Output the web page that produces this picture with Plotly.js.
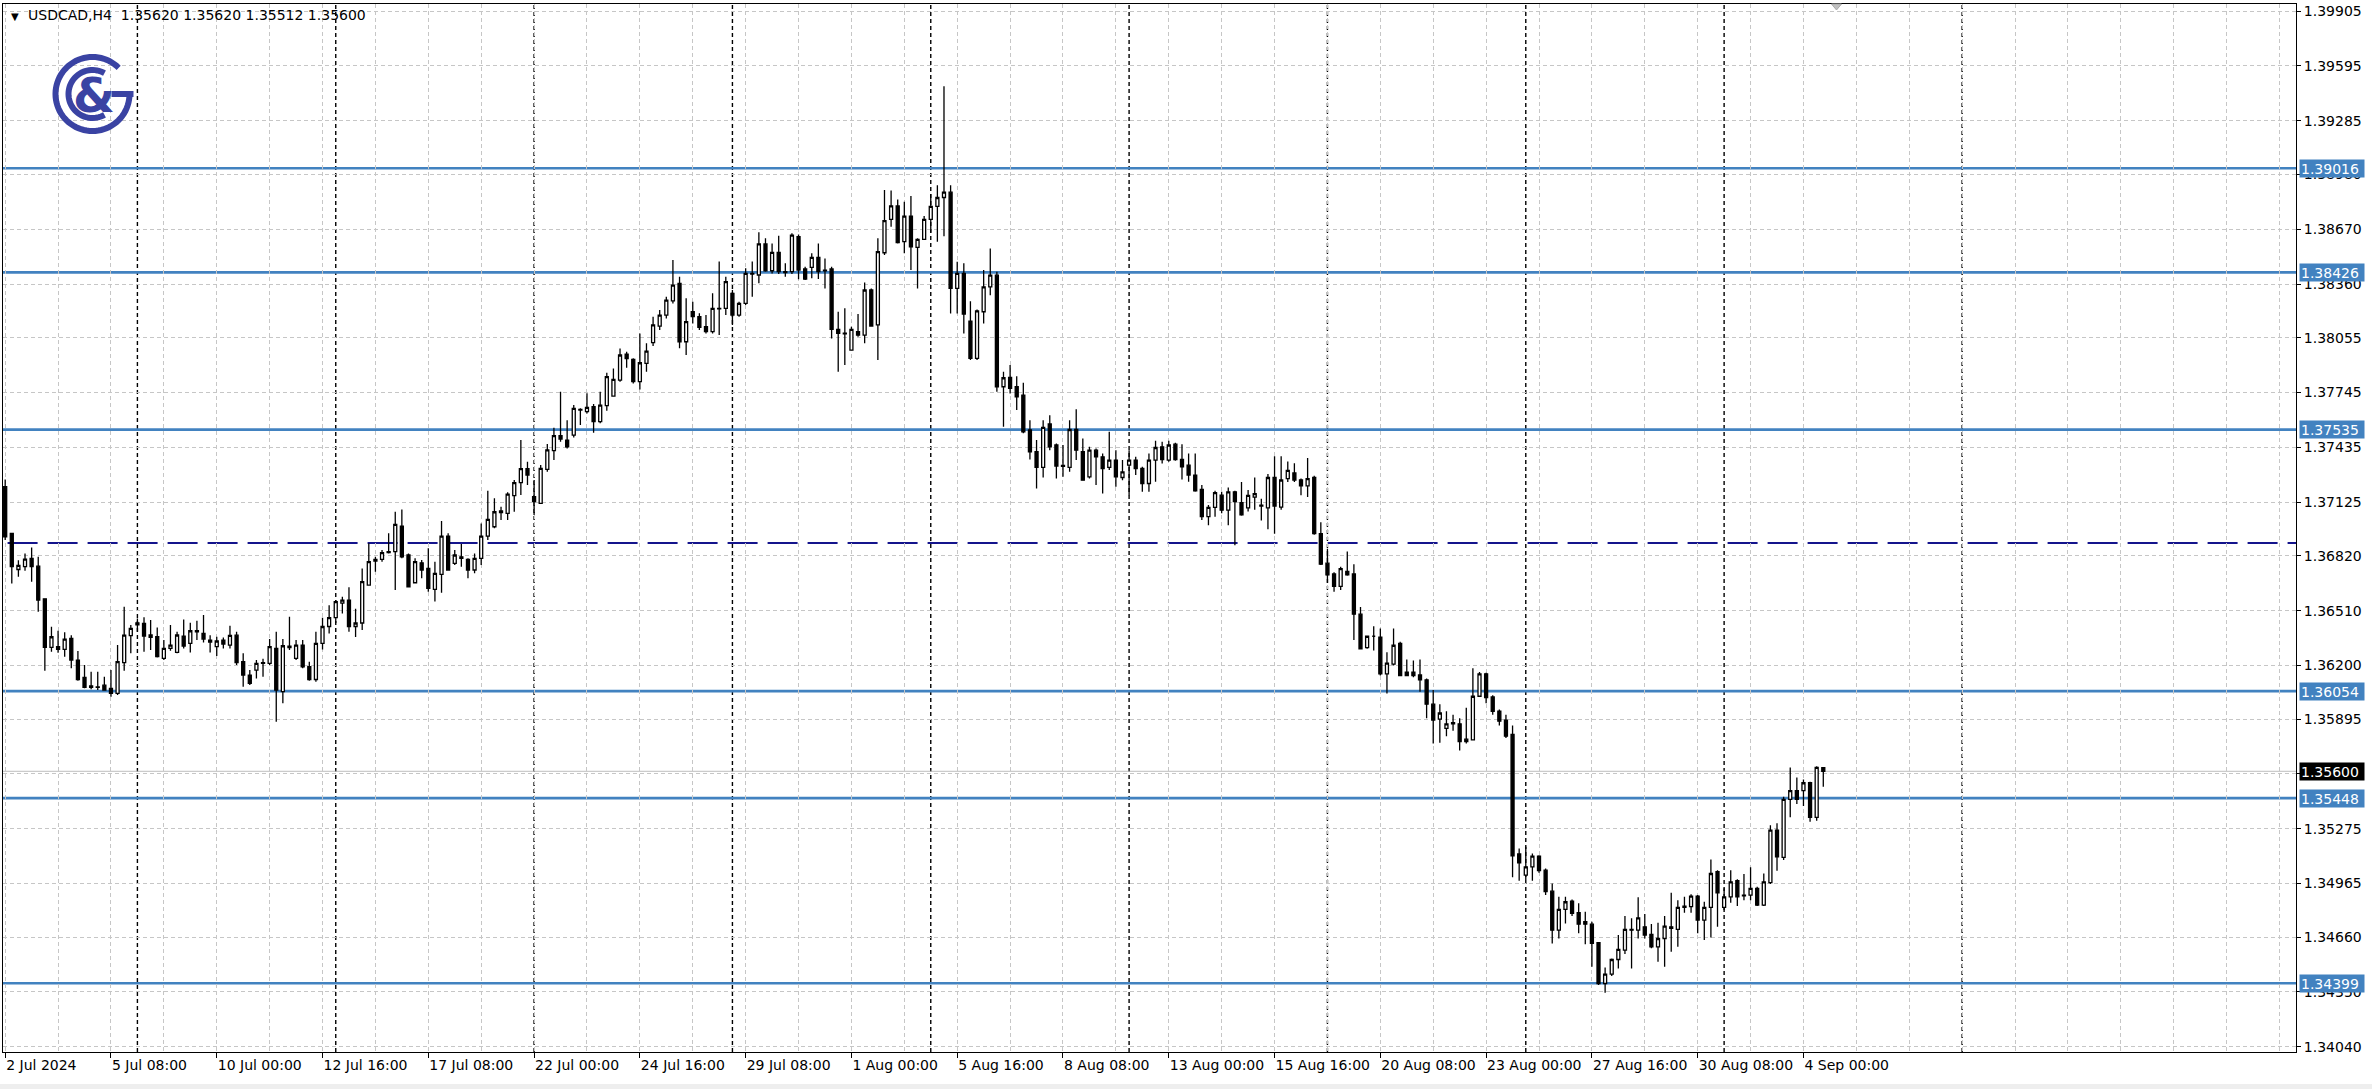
<!DOCTYPE html>
<html><head><meta charset="utf-8">
<script src="https://cdn.plot.ly/plotly-3.0.1.min.js"></script>
<style>html,body{margin:0;padding:0;background:#fff;overflow:hidden;} #chart{width:2372px;height:1089px;}</style>
</head><body><div id="chart"></div>
<script>
// ---- data (USDCAD H4, one value per bar, bar 0 = 2 Jul 2024 16:00) ----
const symbolTitle = 'USDCAD,H4';
const lastBarOHLC = ['1.35620', '1.35620', '1.35512', '1.35600'];

const openP = [
1.37212,1.36947,1.36743,1.36759,1.36806,1.36762,1.36577,1.36302,1.36306,1.36290,
1.36353,1.36230,1.36132,1.36083,1.36078,1.36088,1.36070,1.36041,1.36215,1.36368,
1.36441,1.36438,1.36372,1.36362,1.36240,1.36296,1.36273,1.36366,1.36324,1.36396,
1.36381,1.36343,1.36306,1.36343,1.36315,1.36371,1.36221,1.36145,1.36173,1.36215,
1.36211,1.36296,1.36051,1.36309,1.36240,1.36315,1.36192,1.36120,1.36324,1.36420,
1.36470,1.36552,1.36570,1.36420,1.36440,1.36655,1.36790,1.36800,1.36838,1.36844,
1.36989,1.36825,1.36668,1.36781,1.36749,1.36630,1.36715,1.36932,1.36778,1.36815,
1.36800,1.36740,1.36806,1.36932,1.36985,1.37065,1.37061,1.37161,1.37235,1.37314,
1.37155,1.37117,1.37310,1.37416,1.37501,1.37476,1.37504,1.37650,1.37637,1.37665,
1.37580,1.37671,1.37725,1.37816,1.37963,1.37933,1.37807,1.37911,1.38028,1.38122,
1.38184,1.38265,1.38364,1.38033,1.38203,1.38175,1.38118,1.38090,1.38222,1.38222,
1.38307,1.38184,1.38250,1.38416,1.38411,1.38587,1.38435,1.38539,1.38430,1.38430,
1.38628,1.38445,1.38454,1.38511,1.38435,1.38445,1.38103,1.38082,1.37986,1.38090,
1.38071,1.38326,1.38128,1.38537,1.38726,1.38802,1.38600,1.38745,1.38568,1.38613,
1.38726,1.38800,1.38850,1.38880,1.38335,1.38420,1.38150,1.37939,1.38203,1.38344,
1.38410,1.37778,1.37831,1.37778,1.37731,1.37533,1.37410,1.37321,1.37567,1.37448,
1.37333,1.37321,1.37536,1.37410,1.37268,1.37419,1.37381,1.37321,1.37363,1.37264,
1.37334,1.37363,1.37315,1.37230,1.37363,1.37438,1.37363,1.37453,1.37366,1.37334,
1.37278,1.37196,1.37042,1.37095,1.37164,1.37079,1.37183,1.37122,1.37092,1.37153,
1.37108,1.37092,1.37264,1.37096,1.37258,1.37290,1.37250,1.37217,1.37264,1.36946,
1.36779,1.36718,1.36647,1.36732,1.36718,1.36490,1.36300,1.36365,1.36360,1.36152,
1.36207,1.36324,1.36162,1.36162,1.36146,1.36118,1.35980,1.35896,1.35843,1.35869,
1.35869,1.35782,1.35778,1.36025,1.36152,1.36021,1.35940,1.35890,1.35809,1.35132,
1.35012,1.35059,1.35120,1.35040,1.34921,1.34700,1.34818,1.34865,1.34799,1.34748,
1.34734,1.34629,1.34398,1.34451,1.34534,1.34587,1.34704,1.34700,1.34719,1.34676,
1.34606,1.34653,1.34719,1.34704,1.34829,1.34833,1.34893,1.34757,1.34829,1.35031,
1.34829,1.34889,1.34980,1.34895,1.34899,1.34937,1.34842,1.34969,1.35267,1.35112,
1.35441,1.35490,1.35490,1.35535,1.35339,1.35620];

const highP = [
1.37253,1.36950,1.36796,1.36834,1.36868,1.36815,1.36577,1.36419,1.36396,1.36387,
1.36371,1.36281,1.36202,1.36164,1.36164,1.36136,1.36173,1.36315,1.36532,1.36428,
1.36466,1.36472,1.36457,1.36415,1.36343,1.36428,1.36390,1.36460,1.36441,1.36453,
1.36485,1.36371,1.36362,1.36358,1.36424,1.36390,1.36268,1.36173,1.36230,1.36237,
1.36349,1.36390,1.36349,1.36475,1.36343,1.36343,1.36221,1.36390,1.36470,1.36540,
1.36570,1.36589,1.36642,1.36520,1.36749,1.36891,1.36815,1.36853,1.36948,1.37070,
1.37083,1.36834,1.36806,1.36797,1.36863,1.36787,1.37017,1.36948,1.36853,1.36887,
1.36806,1.36834,1.37004,1.37189,1.37146,1.37099,1.37180,1.37250,1.37476,1.37353,
1.37250,1.37335,1.37454,1.37546,1.37750,1.37589,1.37674,1.37656,1.37741,1.37680,
1.37750,1.37858,1.37882,1.37995,1.37977,1.37939,1.38080,1.38024,1.38175,1.38213,
1.38288,1.38496,1.38401,1.38279,1.38260,1.38194,1.38184,1.38307,1.38487,1.38401,
1.38326,1.38260,1.38449,1.38487,1.38653,1.38619,1.38590,1.38634,1.38477,1.38647,
1.38641,1.38458,1.38534,1.38590,1.38505,1.38458,1.38203,1.38222,1.38118,1.38190,
1.38368,1.38335,1.38619,1.38892,1.38889,1.38839,1.38826,1.38858,1.38619,1.38745,
1.38870,1.38920,1.39480,1.38920,1.38486,1.38477,1.38263,1.38216,1.38439,1.38561,
1.38429,1.37863,1.37901,1.37838,1.37801,1.37589,1.37476,1.37589,1.37617,1.37457,
1.37448,1.37589,1.37650,1.37485,1.37438,1.37429,1.37400,1.37523,1.37419,1.37363,
1.37419,1.37381,1.37325,1.37400,1.37472,1.37466,1.37472,1.37461,1.37453,1.37400,
1.37400,1.37221,1.37108,1.37189,1.37183,1.37208,1.37189,1.37238,1.37193,1.37264,
1.37143,1.37284,1.37385,1.37385,1.37355,1.37345,1.37258,1.37375,1.37274,1.37011,
1.36860,1.36728,1.36759,1.36845,1.36773,1.36530,1.36369,1.36421,1.36409,1.36274,
1.36409,1.36334,1.36233,1.36227,1.36233,1.36126,1.36061,1.35980,1.35940,1.35920,
1.35900,1.35960,1.36183,1.36162,1.36158,1.36031,1.35950,1.35920,1.35859,1.35162,
1.35173,1.35135,1.35125,1.35050,1.34965,1.34889,1.34889,1.34874,1.34852,1.34804,
1.34748,1.34629,1.34489,1.34540,1.34672,1.34780,1.34767,1.34886,1.34791,1.34735,
1.34742,1.34780,1.34912,1.34870,1.34889,1.34904,1.34899,1.34861,1.35101,1.35040,
1.34937,1.35040,1.34988,1.35018,1.35056,1.34946,1.35021,1.35295,1.35305,1.35456,
1.35622,1.35565,1.35554,1.35541,1.35629,1.35620];

const lowP = [
1.36910,1.36664,1.36702,1.36736,1.36674,1.36504,1.36169,1.36277,1.36271,1.36249,
1.36183,1.36113,1.36070,1.36064,1.36060,1.36056,1.36022,1.36032,1.36169,1.36268,
1.36390,1.36277,1.36287,1.36245,1.36230,1.36283,1.36268,1.36296,1.36273,1.36343,
1.36330,1.36273,1.36253,1.36296,1.36296,1.36202,1.36079,1.36089,1.36126,1.36136,
1.36202,1.35880,1.35985,1.36287,1.36230,1.36183,1.36113,1.36107,1.36290,1.36380,
1.36440,1.36494,1.36390,1.36360,1.36400,1.36655,1.36730,1.36787,1.36834,1.36627,
1.36806,1.36645,1.36664,1.36693,1.36617,1.36561,1.36611,1.36740,1.36768,1.36759,
1.36693,1.36721,1.36768,1.36910,1.36976,1.37023,1.37023,1.37070,1.37165,1.37221,
1.37051,1.37117,1.37297,1.37363,1.37467,1.37429,1.37491,1.37561,1.37627,1.37518,
1.37571,1.37642,1.37722,1.37807,1.37886,1.37797,1.37763,1.37863,1.38009,1.38099,
1.38165,1.38250,1.37996,1.37958,1.38137,1.38099,1.38080,1.38080,1.38071,1.38184,
1.38128,1.38175,1.38241,1.38288,1.38364,1.38430,1.38420,1.38416,1.38401,1.38416,
1.38387,1.38383,1.38392,1.38388,1.38335,1.38052,1.37863,1.37901,1.37982,1.38061,
1.38024,1.38122,1.37929,1.38524,1.38685,1.38590,1.38534,1.38439,1.38335,1.38609,
1.38650,1.38600,1.38630,1.38193,1.38193,1.38080,1.37929,1.37929,1.38137,1.38297,
1.37750,1.37551,1.37740,1.37646,1.37514,1.37366,1.37202,1.37264,1.37419,1.37259,
1.37268,1.37296,1.37363,1.37245,1.37259,1.37221,1.37174,1.37306,1.37212,1.37249,
1.37164,1.37278,1.37183,1.37183,1.37240,1.37344,1.37353,1.37359,1.37253,1.37240,
1.37183,1.37023,1.36994,1.37042,1.37061,1.36994,1.36881,1.37047,1.37072,1.37082,
1.37021,1.36971,1.36946,1.37082,1.37238,1.37238,1.37163,1.37153,1.36940,1.36769,
1.36668,1.36617,1.36627,1.36708,1.36344,1.36290,1.36294,1.36284,1.36142,1.36041,
1.36199,1.36138,1.36138,1.36132,1.36051,1.35900,1.35758,1.35762,1.35799,1.35829,
1.35718,1.35758,1.35774,1.36021,1.35985,1.35920,1.35859,1.35789,1.35000,1.34980,
1.34984,1.34980,1.35025,1.34899,1.34625,1.34653,1.34738,1.34780,1.34682,1.34621,
1.34493,1.34390,1.34346,1.34440,1.34483,1.34565,1.34483,1.34653,1.34653,1.34597,
1.34521,1.34493,1.34578,1.34606,1.34799,1.34799,1.34682,1.34644,1.34659,1.34719,
1.34814,1.34855,1.34837,1.34870,1.34870,1.34837,1.34837,1.34961,1.35037,1.35097,
1.35339,1.35414,1.35403,1.35314,1.35320,1.35512];

const closeP = [
1.36928,1.36759,1.36766,1.36802,1.36759,1.36570,1.36302,1.36362,1.36290,1.36349,
1.36230,1.36120,1.36075,1.36075,1.36076,1.36060,1.36041,1.36221,1.36371,1.36409,
1.36430,1.36366,1.36358,1.36249,1.36296,1.36315,1.36372,1.36309,1.36396,1.36390,
1.36349,1.36332,1.36338,1.36321,1.36370,1.36215,1.36145,1.36098,1.36211,1.36211,
1.36306,1.36060,1.36311,1.36300,1.36315,1.36192,1.36120,1.36324,1.36420,1.36470,
1.36561,1.36570,1.36420,1.36440,1.36674,1.36787,1.36800,1.36838,1.36844,1.36999,
1.36815,1.36645,1.36787,1.36740,1.36636,1.36721,1.36932,1.36740,1.36825,1.36806,
1.36740,1.36806,1.36932,1.37027,1.37070,1.37075,1.37170,1.37235,1.37314,1.37278,
1.37127,1.37316,1.37420,1.37501,1.37482,1.37438,1.37656,1.37646,1.37661,1.37580,
1.37674,1.37835,1.37820,1.37958,1.37937,1.37807,1.37914,1.37980,1.38128,1.38184,
1.38269,1.38354,1.38033,1.38147,1.38175,1.38115,1.38090,1.38222,1.38220,1.38373,
1.38184,1.38250,1.38420,1.38420,1.38587,1.38435,1.38539,1.38430,1.38425,1.38637,
1.38439,1.38388,1.38511,1.38430,1.38439,1.38103,1.38080,1.38077,1.38103,1.38071,
1.38326,1.38122,1.38543,1.38719,1.38802,1.38594,1.38745,1.38571,1.38613,1.38726,
1.38800,1.38850,1.38880,1.38335,1.38420,1.38190,1.37939,1.38208,1.38344,1.38410,
1.37778,1.37829,1.37769,1.37721,1.37523,1.37410,1.37321,1.37548,1.37438,1.37329,
1.37327,1.37536,1.37419,1.37249,1.37419,1.37381,1.37315,1.37363,1.37268,1.37296,
1.37363,1.37315,1.37230,1.37363,1.37434,1.37366,1.37448,1.37366,1.37325,1.37278,
1.37189,1.37042,1.37095,1.37178,1.37079,1.37183,1.37127,1.37052,1.37163,1.37173,
1.37102,1.37264,1.37102,1.37250,1.37304,1.37250,1.37217,1.37258,1.36946,1.36773,
1.36712,1.36647,1.36748,1.36712,1.36490,1.36294,1.36365,1.36365,1.36152,1.36213,
1.36314,1.36142,1.36142,1.36142,1.36118,1.35980,1.35890,1.35930,1.35869,1.35875,
1.35768,1.35768,1.36025,1.36152,1.36017,1.35940,1.35884,1.35799,1.35121,1.35081,
1.35059,1.35120,1.35037,1.34918,1.34700,1.34818,1.34861,1.34795,1.34734,1.34734,
1.34625,1.34398,1.34451,1.34534,1.34591,1.34704,1.34700,1.34770,1.34672,1.34606,
1.34653,1.34723,1.34710,1.34829,1.34836,1.34893,1.34757,1.34829,1.35021,1.34912,
1.34889,1.34974,1.34889,1.34899,1.34937,1.34842,1.34974,1.35267,1.35116,1.35441,
1.35490,1.35441,1.35535,1.35339,1.35622,1.35600];

// x tick labels: one every 16 bars starting at bar 0
const xTickLabels = ['2 Jul 2024','5 Jul 08:00','10 Jul 00:00','12 Jul 16:00','17 Jul 08:00','22 Jul 00:00',
  '24 Jul 16:00','29 Jul 08:00','1 Aug 00:00','5 Aug 16:00','8 Aug 08:00','13 Aug 00:00','15 Aug 16:00',
  '20 Aug 08:00','23 Aug 00:00','27 Aug 16:00','30 Aug 08:00','4 Sep 00:00'];
const yTickLabels = ['1.39905','1.39595','1.39285','1.38980','1.38670','1.38360','1.38055','1.37745','1.37435',
  '1.37125','1.36820','1.36510','1.36200','1.35895','1.35585','1.35275','1.34965','1.34660','1.34350','1.34040'];
// horizontal levels drawn on the chart
const levelPrices = [1.39016, 1.38426, 1.37535, 1.36054, 1.35448, 1.34399];
const dashedLevel = 1.36893;
const bidPrice = 1.35600;

// ---- layout helpers ----
const nBars = openP.length;
const barIndex = openP.map((_, i) => i);
const barsPerLabel = 16;
const xTickVals = xTickLabels.map((_, k) => k * barsPerLabel);
const yTickVals = yTickLabels.map(Number);
const firstWeekBar = 20, barsPerWeek = 30;
const separators = [];
for (let b = firstWeekBar; b < nBars; b += barsPerWeek) separators.push(b);
separators.push(nBars - 1 + 21);

const gridColor = '#c6c6c6';
const gridDash = '4px,3px';
const levelColor = '#4282c0';
const logoColor = '#3a43a3';
const font = 'DejaVu Sans';
const axisFontSize = 14;

const shapes = [];
separators.forEach(b => shapes.push({type:'line', xref:'x', yref:'paper', x0:b, x1:b, y0:0, y1:1,
  line:{color:'#000', width:1.4, dash:'4px,3px'}, layer:'between'}));
shapes.push({type:'line', xref:'paper', yref:'y', x0:0, x1:1, y0:bidPrice, y1:bidPrice,
  line:{color:'#bdbdbd', width:1}, layer:'between'});
levelPrices.forEach(p => shapes.push({type:'line', xref:'paper', yref:'y', x0:0, x1:1, y0:p, y1:p,
  line:{color:levelColor, width:2.6}, layer:'between'}));
shapes.push({type:'line', xref:'paper', yref:'y', x0:0.002, x1:1, y0:dashedLevel, y1:dashedLevel,
  line:{color:'#14148c', width:2, dash:'30px,10px'}, layer:'between'});

// logo (decorative)
function arc(r, a0, a1, n) {
  let d = '';
  for (let k = 0; k <= n; k++) {
    const a = (a0 + (a1 - a0) * k / n) * Math.PI / 180;
    d += (k ? ' L' : 'M') + (r * Math.cos(a)).toFixed(2) + ',' + (r * Math.sin(a)).toFixed(2);
  }
  return d;
}
const lx = (92.5 - 3) / 2293, ly = (1052 - 94) / 1048;
shapes.push({type:'path', xref:'paper', yref:'paper', xsizemode:'pixel', ysizemode:'pixel', xanchor:lx, yanchor:ly,
  path: arc(37, 45, 360, 70) + ' M41,0 L19,0', line:{color:logoColor, width:6}, fillcolor:'rgba(0,0,0,0)', layer:'above'});
shapes.push({type:'path', xref:'paper', yref:'paper', xsizemode:'pixel', ysizemode:'pixel', xanchor:lx, yanchor:ly,
  path: arc(24, 60, 300, 50), line:{color:logoColor, width:6}, fillcolor:'rgba(0,0,0,0)', layer:'above'});
// chart-shift marker at the top
shapes.push({type:'path', xref:'x', yref:'paper', xsizemode:'pixel', ysizemode:'pixel', xanchor:nBars + 1, yanchor:1,
  path:'M-5,0 L5,0 L0,-6 Z', line:{color:'#a8a8a8', width:1}, fillcolor:'#c0c0c0', layer:'above'});
// bottom status strip
shapes.push({type:'rect', xref:'paper', yref:'paper', x0:-0.01, x1:1.04, y0:-37/1048, y1:-32/1048,
  line:{width:0}, fillcolor:'#eeeeee', layer:'below'});

const annotations = [];
levelPrices.forEach(p => annotations.push({xref:'paper', yref:'y', x:1, y:p, xanchor:'left', yanchor:'middle',
  xshift:3, text:p.toFixed(5), showarrow:false, bgcolor:levelColor, font:{family:font, size:axisFontSize, color:'#fff'},
  borderpad:1, width:62, height:15, align:'left'}));
annotations.push({xref:'paper', yref:'y', x:1, y:bidPrice, xanchor:'left', yanchor:'middle', xshift:3,
  text:bidPrice.toFixed(5), showarrow:false, bgcolor:'#000', font:{family:font, size:axisFontSize, color:'#fff'},
  borderpad:1, width:62, height:15, align:'left'});
annotations.push({xref:'paper', yref:'paper', x:0, y:1, xanchor:'left', yanchor:'top', xshift:6, yshift:-5,
  text:'\u25BC', showarrow:false, font:{family:font, size:10, color:'#000'}});
annotations.push({xref:'paper', yref:'paper', x:0, y:1, xanchor:'left', yanchor:'top', xshift:23, yshift:-1,
  text: symbolTitle + '\u00a0\u00a0' + lastBarOHLC.join(' '), showarrow:false, font:{family:font, size:14, color:'#000'}});
annotations.push({xref:'paper', yref:'paper', x:lx, y:ly, xanchor:'center', yanchor:'middle', xshift:1, yshift:-1,
  text:'&', showarrow:false, font:{family:font, size:48, color:logoColor, weight:'bold'}});

const trace = {
  type:'candlestick', x:barIndex, open:openP, high:highP, low:lowP, close:closeP,
  increasing:{line:{color:'#000', width:1.3}, fillcolor:'#ffffff'},
  decreasing:{line:{color:'#000', width:1.3}, fillcolor:'#000000'},
  whiskerwidth:0, hoverinfo:'skip', showlegend:false
};

const layout = {
  width:2372, height:1089,
  margin:{l:3, r:76, t:4, b:37, pad:0},
  paper_bgcolor:'#ffffff', plot_bgcolor:'#ffffff',
  showlegend:false, boxgap:0.35, dragmode:false,
  font:{family:font, size:axisFontSize, color:'#000'},
  xaxis:{
    type:'linear', range:[-0.33, 346.5], rangeslider:{visible:false}, fixedrange:true,
    tickmode:'array', tickvals:xTickVals, ticktext:xTickLabels,
    ticks:'outside', ticklen:5, tickwidth:1, tickcolor:'#000',
    ticklabelposition:'outside right',
    tickfont:{family:font, size:axisFontSize, color:'#000'},
    showgrid:true, gridcolor:gridColor, griddash:gridDash, gridwidth:1,
    minor:{tickmode:'linear', tick0:0, dtick:8, showgrid:true, gridcolor:gridColor, griddash:gridDash, gridwidth:1, ticks:''},
    showline:true, linecolor:'#000', linewidth:1, mirror:true, zeroline:false
  },
  yaxis:{
    side:'right', range:[1.34010, 1.39946], fixedrange:true,
    tickmode:'array', tickvals:yTickVals, ticktext:yTickLabels,
    ticks:'outside', ticklen:4, tickwidth:1, tickcolor:'#000',
    tickfont:{family:font, size:axisFontSize, color:'#000'},
    showgrid:true, gridcolor:gridColor, griddash:gridDash, gridwidth:1,
    showline:true, linecolor:'#000', linewidth:1, mirror:true, zeroline:false
  },
  shapes:shapes, annotations:annotations
};

Plotly.newPlot('chart', [trace], layout, {displayModeBar:false, staticPlot:true});
</script>
</body></html>
